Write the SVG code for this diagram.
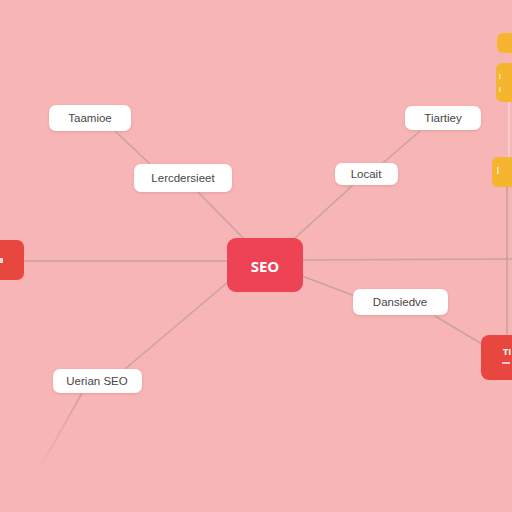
<svg xmlns="http://www.w3.org/2000/svg" width="512" height="512" viewBox="0 0 512 512">
<defs>
<style>
.bg{fill:#F8B5B5}
.card{fill:#FFFFFF;filter:url(#sh)}
.lbl{font-family:"Liberation Sans",Arial,sans-serif;font-size:11.5px;fill:#4A4545;text-anchor:middle;dominant-baseline:central}
.hub{fill:#EE4354}
.red{fill:#E8473F}
.yel{fill:#F6B52F}
.edge{stroke:#C9A2A2;stroke-width:1.6;fill:none}
.wt{font-family:"Open Sans","Liberation Sans",sans-serif;fill:#FFFFFF;font-weight:bold;text-anchor:middle;dominant-baseline:central}
</style>
<filter id="sh" x="-20%" y="-30%" width="140%" height="160%">
<feDropShadow dx="0" dy="1" stdDeviation="1.5" flood-color="#C07070" flood-opacity="0.35"/>
</filter>
<linearGradient id="fade" gradientUnits="userSpaceOnUse" x1="82" y1="393" x2="36" y2="475">
<stop offset="0" stop-color="#C9A2A2" stop-opacity="1"/>
<stop offset="1" stop-color="#C9A2A2" stop-opacity="0"/>
</linearGradient>
</defs>
<rect class="bg" x="0" y="0" width="512" height="512"/>
<g id="connectors">
<line class="edge" x1="115" y1="131" x2="150" y2="164"/>
<line class="edge" x1="198" y1="192" x2="244" y2="239"/>
<line class="edge" x1="420" y1="131" x2="383" y2="163"/>
<line class="edge" x1="353" y1="185" x2="294" y2="239"/>
<line class="edge" x1="24" y1="261" x2="228" y2="261"/>
<line class="edge" x1="302" y1="260" x2="512" y2="259"/>
<line class="edge" x1="302" y1="276" x2="355" y2="296"/>
<line class="edge" x1="435" y1="316" x2="482" y2="344"/>
<line class="edge" x1="228" y1="282" x2="125" y2="369"/>
<line x1="82" y1="393" x2="36" y2="475" stroke="url(#fade)" stroke-width="1.6"/>
<line class="edge" x1="507" y1="187" x2="507" y2="336"/>
<line x1="509" y1="102" x2="509" y2="157" stroke="#FBD6D6" stroke-width="1.5"/>
</g>
<g id="n-seo">
<rect class="hub" x="227" y="238" width="76" height="54" rx="9"/>
<text class="wt" x="265" y="266" font-size="15">SEO</text>
</g>
<g id="n-taamioe">
<rect class="card" x="49" y="105" width="82" height="26" rx="7"/>
<text class="lbl" x="90" y="118">Taamioe</text>
</g>
<g id="n-lercdersieet">
<rect class="card" x="134" y="164" width="98" height="28" rx="7"/>
<text class="lbl" x="183" y="178">Lercdersieet</text>
</g>
<g id="n-tiartiey">
<rect class="card" x="405" y="106" width="76" height="24" rx="7"/>
<text class="lbl" x="443" y="118">Tiartiey</text>
</g>
<g id="n-locait">
<rect class="card" x="335" y="163" width="63" height="22" rx="7"/>
<text class="lbl" x="366" y="174">Locait</text>
</g>
<g id="n-dansiedve">
<rect class="card" x="353" y="289" width="95" height="26" rx="7"/>
<text class="lbl" x="400" y="302">Dansiedve</text>
</g>
<g id="n-uerian">
<rect class="card" x="53" y="369" width="89" height="24" rx="7"/>
<text class="lbl" x="97" y="381">Uerian SEO</text>
</g>
<g id="n-left">
<rect class="red" x="-12" y="240" width="36" height="40" rx="7"/>
<rect x="0" y="258" width="3" height="5" fill="#FFFFFF" opacity="0.8"/>
</g>
<g id="n-right-red">
<rect class="red" x="481" y="335" width="45" height="45" rx="8"/>
<text class="wt" x="503" y="351" font-size="9" text-anchor="start" style="text-anchor:start">TI</text>
<rect x="502" y="362" width="8" height="2" fill="#FFFFFF" opacity="0.7"/>
</g>
<g id="n-y1">
<rect class="yel" x="497" y="33" width="25" height="20" rx="6"/>
</g>
<g id="n-y2">
<rect class="yel" x="496" y="63" width="26" height="39" rx="6"/>
<rect x="499" y="74" width="1.5" height="5" fill="#FFFFFF" opacity="0.6"/>
<rect x="499" y="87" width="1.5" height="5" fill="#FFFFFF" opacity="0.6"/>
</g>
<g id="n-y3">
<rect class="yel" x="492" y="157" width="30" height="30" rx="6"/>
<rect x="497" y="167" width="1.5" height="7" fill="#FFFFFF" opacity="0.7"/>
</g>
</svg>
